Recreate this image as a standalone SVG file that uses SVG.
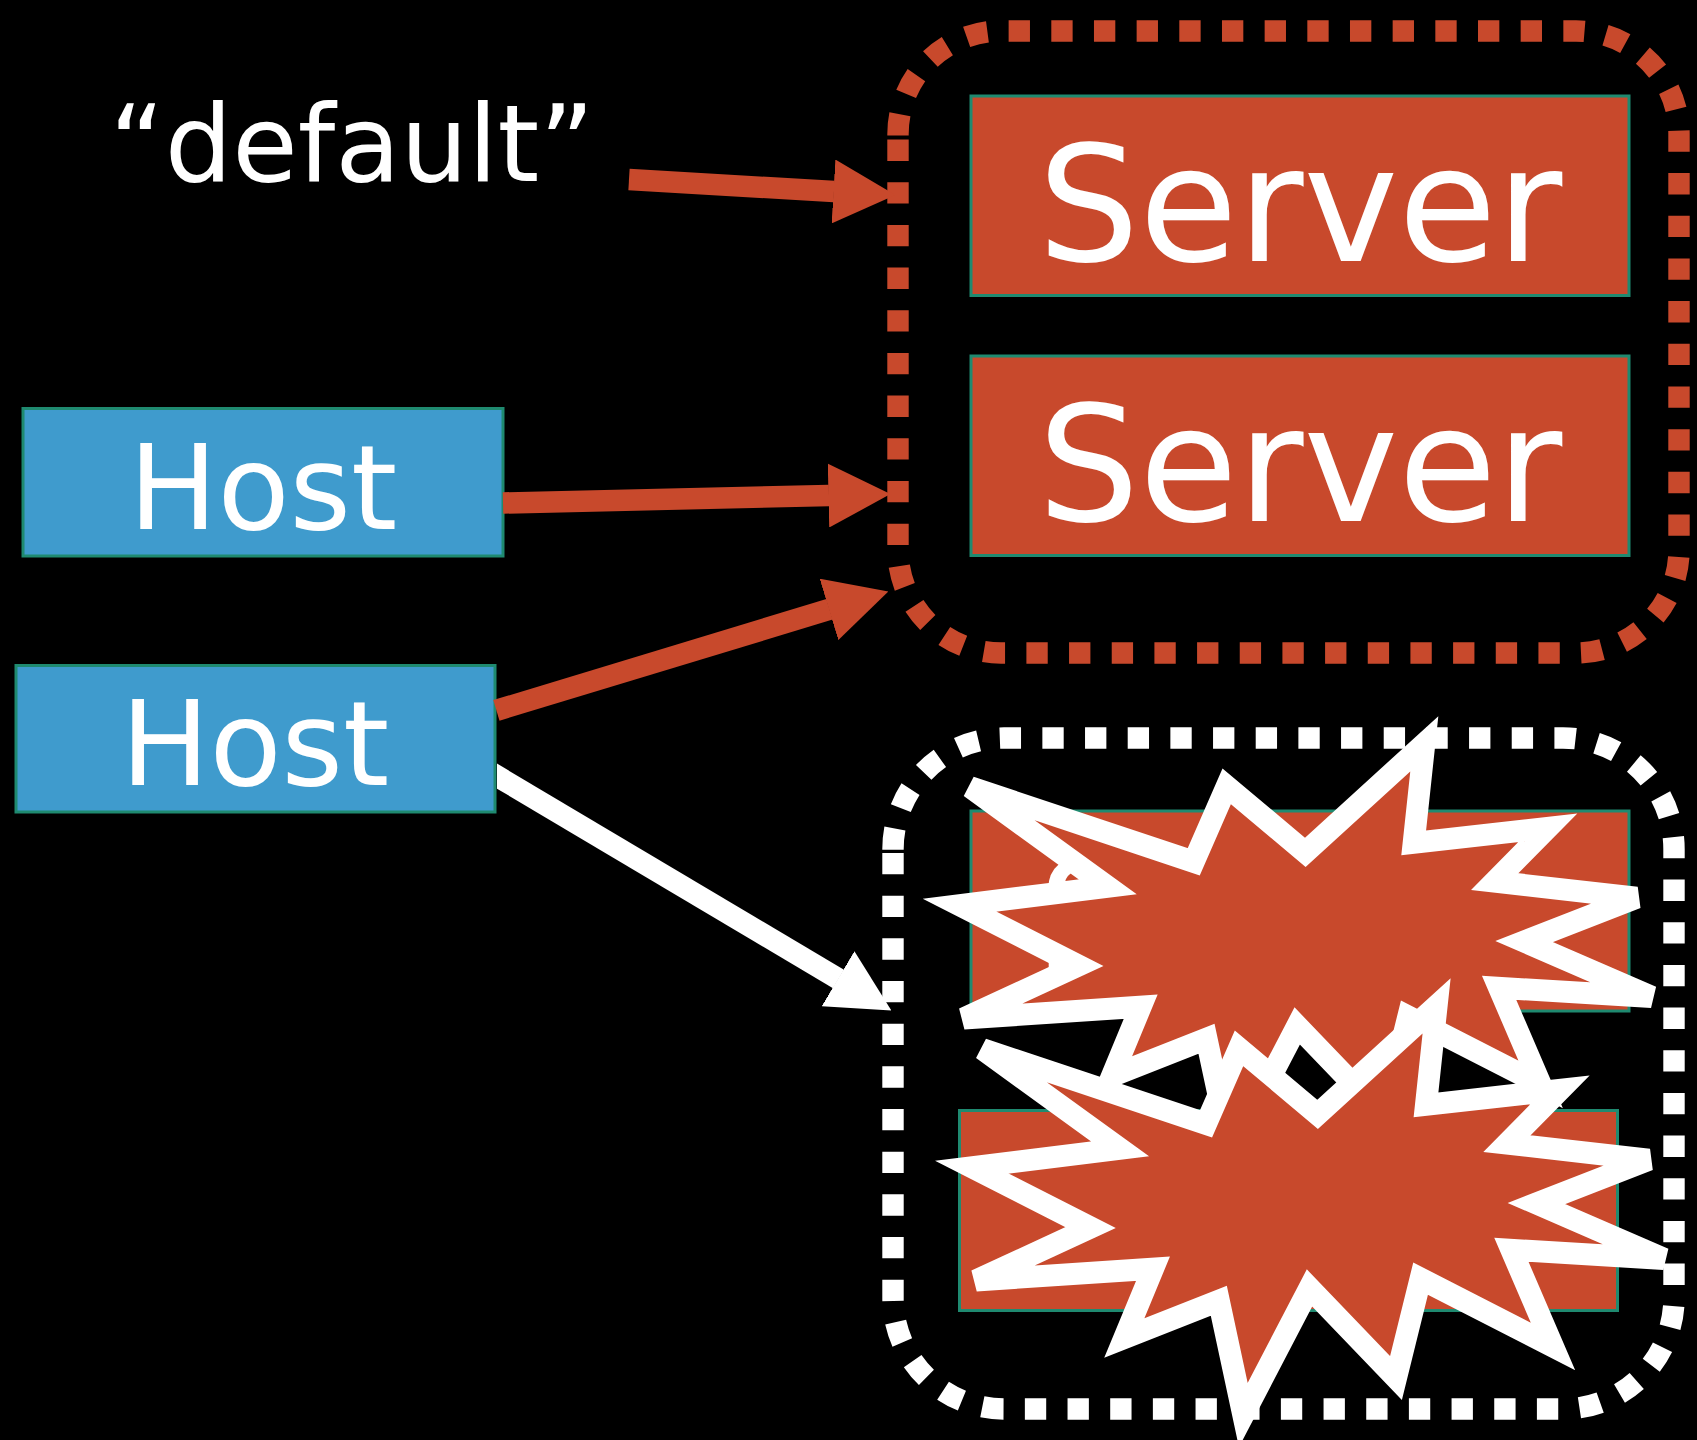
<svg xmlns="http://www.w3.org/2000/svg" width="1697" height="1440" viewBox="0 0 1697 1440">
<style>
text{font-family:"DejaVu Sans",sans-serif;fill:#fff;text-anchor:middle}
.big{font-size:160px}
.host{font-size:118px}
.def{font-size:106.500px}
.box{stroke:#1f8a70;stroke-width:3}
.srv{fill:#c8492c}
.hst{fill:#3f9bcd}
.grp{fill:none;stroke-width:21.4;stroke-dasharray:21.33 21.34}
.burst{fill:#c8492c;stroke:#fff;stroke-width:22;stroke-linejoin:miter;stroke-miterlimit:4}
.red{stroke:#c8492c;stroke-width:21.500;fill:none;marker-end:url(#hr)}
.white{stroke:#fff;stroke-width:21.500;fill:none;marker-end:url(#hw)}
</style>
<defs>
<marker id="hr" markerUnits="userSpaceOnUse" markerWidth="62" markerHeight="64" refX="0.5" refY="32" orient="auto"><path d="M0 0L62 32L0 64Z" fill="#c8492c"/></marker>
<marker id="hw" markerUnits="userSpaceOnUse" markerWidth="62" markerHeight="64" refX="0.5" refY="32" orient="auto"><path d="M0 0L62 32L0 64Z" fill="#fff"/></marker>
<clipPath id="cw"><rect x="497" y="700" width="500" height="400"/></clipPath>
<polygon id="b" points="982.5,1049.2 1206,1123.8 1239,1048.3 1317.6,1114.3 1436.6,1005.8 1426,1104.9 1560,1089.8 1507,1143.6 1648.8,1159.8 1536.5,1203.5 1664,1258.9 1511.4,1249.8 1553,1346.5 1420.6,1278.6 1396,1378 1309.5,1288 1243.3,1415 1218.8,1300.8 1124.3,1338 1153,1268.7 976,1280.5 1090.6,1227.6 972,1167.2 1120,1148.8"/>
</defs>
<rect width="1697" height="1440" fill="#000"/>
<g id="default-group"><path class="grp" stroke="#c8492c" d="M898 139.6V550A103 103 0 0 0 1001 653H1576A103 103 0 0 0 1679 550V134A103 103 0 0 0 1576 31H1001A103 103 0 0 0 898 134Z"/></g>
<g id="second-group"><path class="grp" stroke="#fff" d="M893 853V1298A111 111 0 0 0 1004 1409H1563A111 111 0 0 0 1674 1298V849A111 111 0 0 0 1563 738H1004A111 111 0 0 0 893 849Z"/></g>
<g id="server-1"><rect class="box srv" x="971" y="96" width="658" height="199.500"/><text class="big" x="1300" y="260.500">Server</text></g>
<g id="server-2"><rect class="box srv" x="971" y="356" width="658" height="199.500"/><text class="big" x="1300" y="520.500">Server</text></g>
<g id="server-3"><rect class="box srv" x="971" y="811" width="658" height="200"/><text class="big" x="1300" y="975">Server</text></g>
<g id="server-4"><rect class="box srv" x="959.500" y="1110.500" width="658" height="200"/></g>
<g id="burst-1"><use href="#b" class="burst" transform="translate(-12.3 -262)"/></g>
<g id="burst-2"><use href="#b" class="burst"/></g>
<g id="host-1"><rect class="box hst" x="23" y="408.500" width="480" height="147.500"/><text class="host" x="263" y="529">Host</text></g>
<g id="host-2"><rect class="box hst" x="16" y="665.500" width="479" height="146.500"/><text class="host" x="255" y="785">Host</text></g>
<g id="label-default"><text class="def" x="352" y="181">“default”</text></g>
<g id="connectors">
<path class="red" d="M629 179.500L834 191.500"/>
<path class="red" d="M503 503L829 495.500"/>
<path class="red" d="M496.400 710.400L829.500 609.300"/>
<path class="white" clip-path="url(#cw)" d="M485 769L838.500 979"/>
</g>
</svg>
